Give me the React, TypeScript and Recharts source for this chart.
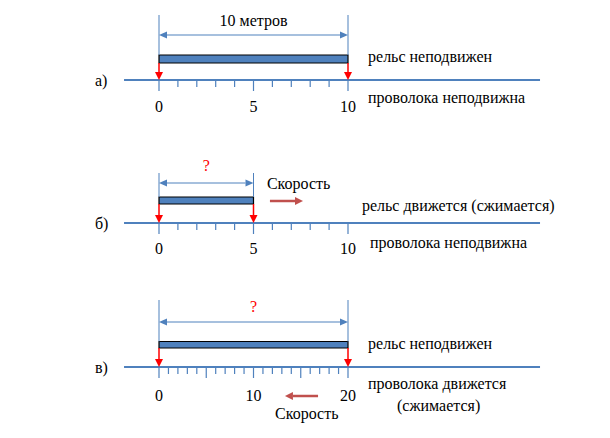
import React from "react";
import {
  ScatterChart,
  Scatter,
  XAxis,
  YAxis,
  ReferenceLine,
  ReferenceArea,
  ReferenceDot,
} from "recharts";

const BLUE = "#4f81bd";
const RED = "#ff0000";
const SPEED = "#c0504d";
const FONT = '"Liberation Serif", "Times New Roman", "DejaVu Serif", serif';
const W = 610;
const ORIGIN = 159; // px where the 0 mark of every wire sits

// а) rail at rest, wire at rest
const ticksA = [0, 1, 2, 3, 4, 5, 6, 7, 8, 9, 10];
const majorA = [0, 5, 10];
const labelsA = [0, 5, 10];
const railA = [0, 10];
const wireA = [-1.85, 20.16];

// б) rail moving (contracted), wire at rest
const ticksB = [0, 1, 2, 3, 4, 5, 6, 7, 8, 9, 10];
const majorB = [0, 5, 10];
const labelsB = [0, 5, 10];
const railB = [0, 5];
const wireB = [-1.85, 20.16];
const speedB = [5.87, 7.62];

// в) rail at rest, wire moving (contracted)
const ticksC = [0, 1, 2, 3, 4, 5, 6, 7, 8, 9, 10, 11, 12, 13, 14, 15, 16, 17, 18, 19, 20];
const majorC = [0, 5, 10, 15, 20];
const labelsC = [0, 10, 20];
const railC = [0, 20];
const wireC = [-3.7, 40.32];
const speedC = [16.83, 13.33];

type Note = { x: number; y: number; text: string; color?: string; anchor?: "start" | "middle" };

const textStyle = { fontFamily: FONT, fontSize: 16 };

function arrowShape(color: string, width: number, head: number, headW: number, both = false) {
  return (p: any) => {
    const { x1, y1, x2, y2 } = p;
    const dx = x2 - x1;
    const dy = y2 - y1;
    const len = Math.hypot(dx, dy) || 1;
    const ux = dx / len;
    const uy = dy / len;
    const nx = -uy;
    const ny = ux;
    const tri = (tx: number, ty: number, dx1: number, dy1: number) => {
      const bx = tx - dx1 * head;
      const by = ty - dy1 * head;
      return `${tx},${ty} ${bx + (nx * headW) / 2},${by + (ny * headW) / 2} ${bx - (nx * headW) / 2},${by - (ny * headW) / 2}`;
    };
    const sx = both ? x1 + ux * head : x1;
    const sy = both ? y1 + uy * head : y1;
    return (
      <g>
        <line x1={sx} y1={sy} x2={x2 - ux * head} y2={y2 - uy * head} stroke={color} strokeWidth={width} />
        <polygon points={tri(x2, y2, ux, uy)} fill={color} />
        {both && <polygon points={tri(x1, y1, -ux, -uy)} fill={color} />}
      </g>
    );
  };
}

type PanelProps = {
  top: number;
  height: number;
  wireAt: number;
  ppu: number;
  ticks: number[];
  majors: number[];
  labels: number[];
  rail: number[];
  wire: number[];
  railY: number[];
  dimTop: number;
  dimY: number;
  dimText: string;
  dimColor: string;
  dimTextY: number;
  labelY: number;
  speed?: number[];
  speedY?: number;
  notes: Note[];
};

function Panel(p: PanelProps) {
  const tickData = p.ticks.map((v) => ({
    x: v,
    y: 0,
    major: p.majors.includes(v),
    label: p.labels.includes(v),
  }));
  const TickMark = (s: any) => {
    const { cx, cy, payload } = s;
    return (
      <g>
        <line x1={cx} y1={cy} x2={cx} y2={cy + (payload.major ? 11 : 7)} stroke={BLUE} strokeWidth={1.2} />
        {payload.label && (
          <text x={cx} y={cy + p.labelY} textAnchor="middle" dominantBaseline="central" style={textStyle} fill="#000">
            {payload.x}
          </text>
        )}
      </g>
    );
  };
  return (
    <div style={{ position: "absolute", left: 0, top: p.top }}>
      <ScatterChart width={W} height={p.height} margin={{ top: 0, right: 0, bottom: 0, left: 0 }}>
        <XAxis type="number" dataKey="x" hide allowDataOverflow domain={[-ORIGIN / p.ppu, (W - ORIGIN) / p.ppu]} />
        <YAxis type="number" dataKey="y" hide allowDataOverflow domain={[-(p.height - p.wireAt), p.wireAt]} />
        {/* wire */}
        <ReferenceLine segment={[{ x: p.wire[0], y: 0 }, { x: p.wire[1], y: 0 }]} stroke={BLUE} strokeWidth={2.2} />
        <Scatter data={tickData} shape={TickMark} isAnimationActive={false} />
        {/* dimension lines */}
        {p.rail.map((x) => (
          <ReferenceLine key={"e" + x} segment={[{ x, y: p.railY[1] }, { x, y: p.dimTop }]} stroke={BLUE} strokeWidth={1} />
        ))}
        <ReferenceLine
          segment={[{ x: p.rail[0], y: p.dimY }, { x: p.rail[1], y: p.dimY }]}
          shape={arrowShape(BLUE, 1, 8, 7, true)}
        />
        <ReferenceDot
          x={(p.rail[0] + p.rail[1]) / 2}
          y={p.dimTextY}
          shape={(s: any) => (
            <text x={s.cx} y={s.cy} textAnchor="middle" dominantBaseline="central" style={textStyle} fill={p.dimColor}>
              {p.dimText}
            </text>
          )}
        />
        {/* rail */}
        <ReferenceArea x1={p.rail[0]} x2={p.rail[1]} y1={p.railY[0]} y2={p.railY[1]} fill={BLUE} fillOpacity={1} stroke="#000" strokeWidth={1.2} />
        {/* red marks from rail ends down to the wire */}
        {p.rail.map((x) => (
          <ReferenceLine key={"r" + x} segment={[{ x, y: p.railY[0] }, { x, y: 0 }]} shape={arrowShape(RED, 1.5, 8, 8)} />
        ))}
        {p.speed && (
          <ReferenceLine
            segment={[{ x: p.speed[0], y: p.speedY }, { x: p.speed[1], y: p.speedY }]}
            shape={arrowShape(SPEED, 2.5, 8, 8)}
          />
        )}
        {p.notes.map((n, i) => (
          <ReferenceDot
            key={"n" + i}
            x={n.x}
            y={n.y}
            shape={(s: any) => (
              <text x={s.cx} y={s.cy} textAnchor={n.anchor || "start"} dominantBaseline="central" style={textStyle} fill={n.color || "#000"}>
                {n.text}
              </text>
            )}
          />
        ))}
      </ScatterChart>
    </div>
  );
}

export default function App() {
  return (
    <div style={{ position: "absolute", left: 0, top: 0, width: W, height: 438, background: "#fff" }}>
      <Panel
        top={0}
        height={140}
        wireAt={80}
        ppu={18.9}
        ticks={ticksA}
        majors={majorA}
        labels={labelsA}
        rail={railA}
        wire={wireA}
        railY={[17, 25]}
        dimTop={65}
        dimY={45}
        dimText="10 метров"
        dimColor="#000"
        dimTextY={59.5}
        labelY={26.5}
        notes={[
          { x: -3.39, y: 0, text: "а)" },
          { x: 11.06, y: 23.5, text: "рельс  неподвижен" },
          { x: 11.06, y: -17, text: "проволока неподвижна" },
        ]}
      />
      <Panel
        top={140}
        height={145}
        wireAt={83}
        ppu={18.9}
        ticks={ticksB}
        majors={majorB}
        labels={labelsB}
        rail={railB}
        wire={wireB}
        railY={[19, 26]}
        dimTop={50}
        dimY={40}
        dimText="?"
        dimColor={RED}
        dimTextY={58}
        labelY={25}
        speed={speedB}
        speedY={22}
        notes={[
          { x: -3.39, y: 0, text: "б)" },
          { x: 5.71, y: 39.5, text: "Скорость" },
          { x: 10.74, y: 18, text: "рельс  движется (сжимается)" },
          { x: 11.16, y: -19, text: "проволока неподвижна" },
        ]}
      />
      <Panel
        top={285}
        height={153}
        wireAt={82}
        ppu={9.45}
        ticks={ticksC}
        majors={majorC}
        labels={labelsC}
        rail={railC}
        wire={wireC}
        railY={[19, 25.5]}
        dimTop={67}
        dimY={45}
        dimText="?"
        dimColor={RED}
        dimTextY={61}
        labelY={28}
        speed={speedC}
        speedY={-29}
        notes={[
          { x: -6.77, y: 0, text: "в)" },
          { x: 12.28, y: -46, text: "Скорость" },
          { x: 22.12, y: 24, text: "рельс  неподвижен" },
          { x: 22.12, y: -16, text: "проволока движется" },
          { x: 25.19, y: -38.5, text: "(сжимается)" },
        ]}
      />
    </div>
  );
}
